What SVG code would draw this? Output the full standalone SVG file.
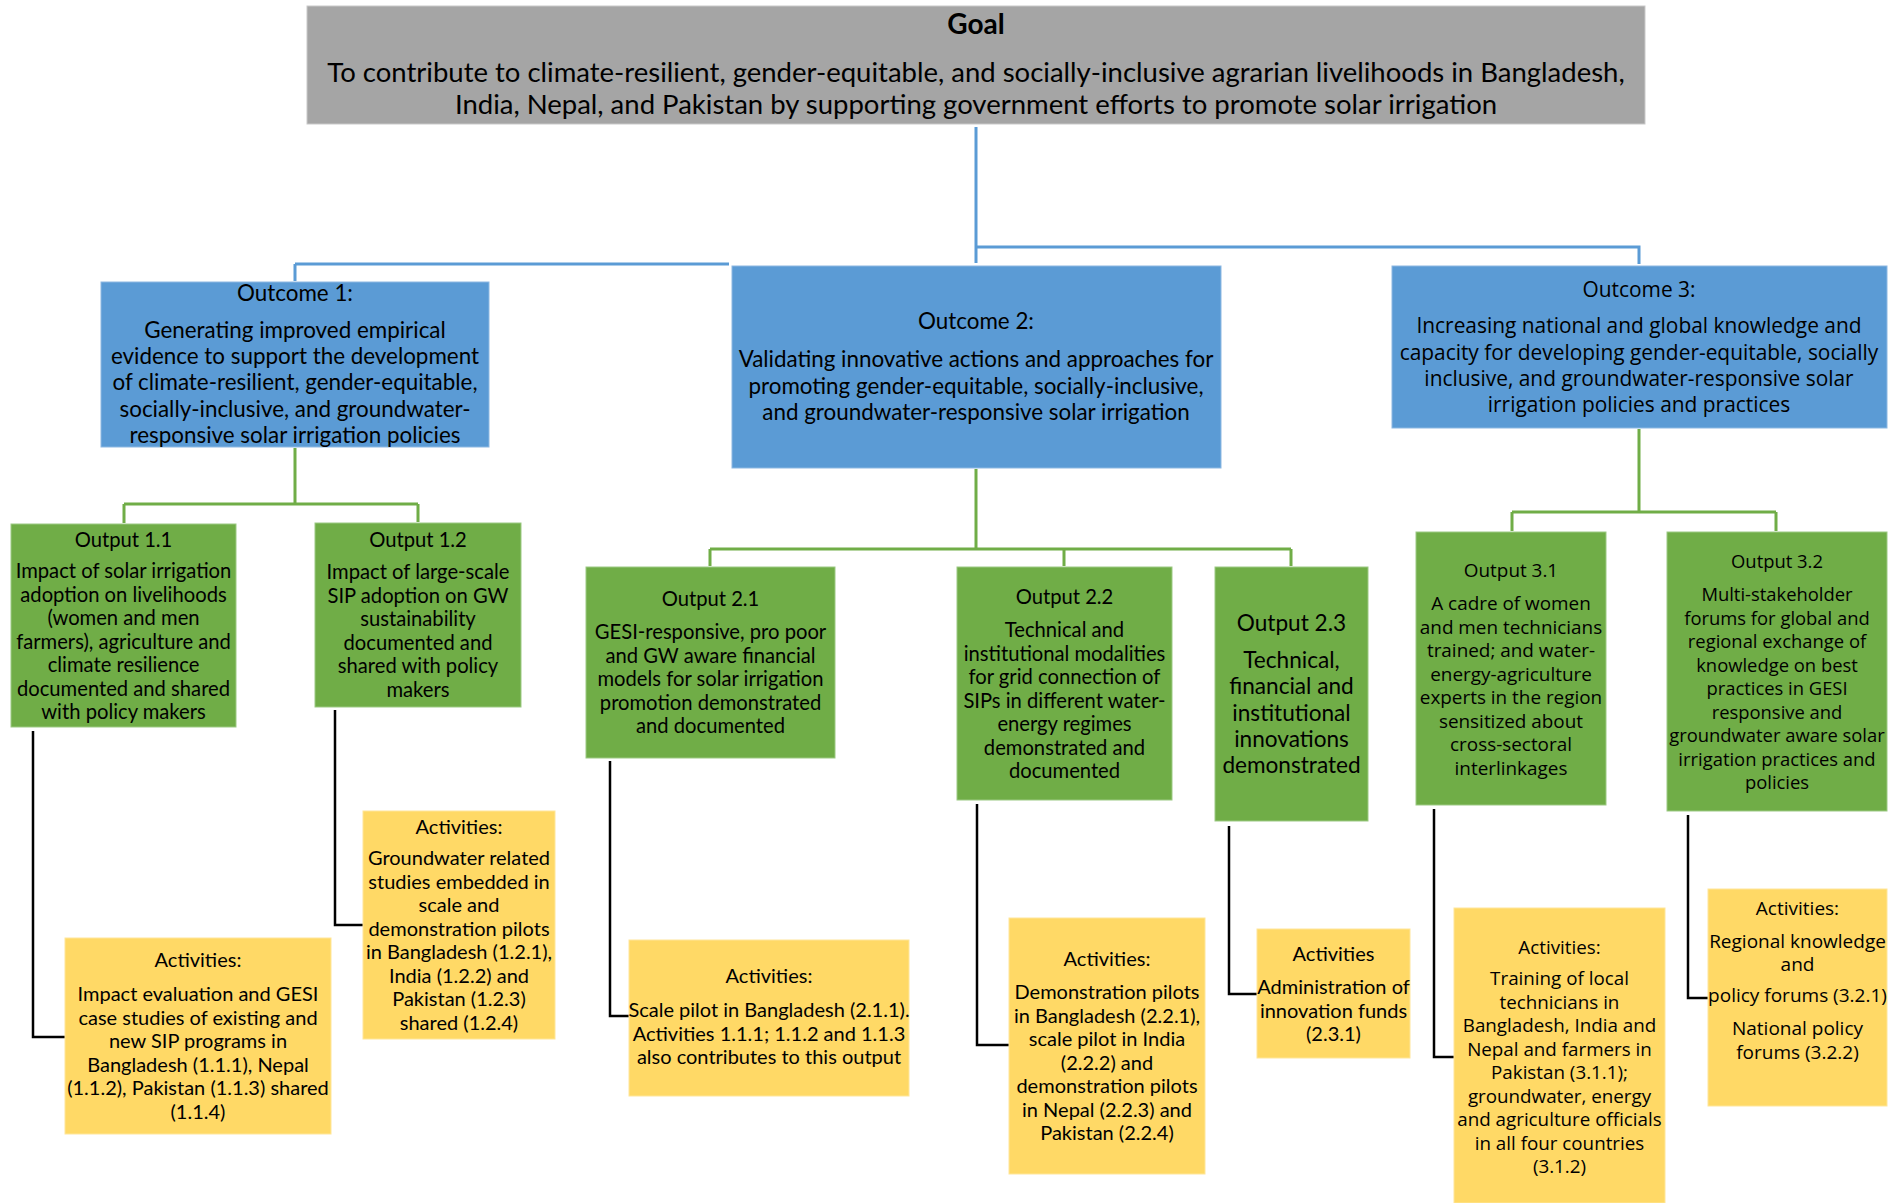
<svg xmlns="http://www.w3.org/2000/svg" width="1901" height="1203" viewBox="0 0 1901 1203">
<style>
.goal{fill:#A5A5A5;stroke:#C9C9C9;stroke-width:1}
.outc{fill:#5B9BD5;stroke:#8DB8E2;stroke-width:1}
.outp{fill:#70AD47;stroke:#9CC983;stroke-width:1}
.act{fill:#FFD966;stroke:#FFE699;stroke-width:1}
text{font-family:Lato,"Open Sans","Liberation Sans",sans-serif;fill:#000;text-anchor:middle}
.gt{font-size:28px;font-weight:bold}
.g{font-size:27.5px}
.oc{font-size:22.4px}
.op{font-size:20.2px}
.op23{font-size:22.6px}
.ac{font-size:20px}
.w{font-family:"Open Sans","Noto Sans","Liberation Sans",sans-serif}
.oc3{font-size:20.9px}
.op31{font-size:18.9px}
.op32{font-size:18.4px}
.ac31{font-size:18.8px}
.ac32{font-size:19px}
.cb{fill:none;stroke:#5B9BD5;stroke-width:3}
.cg{fill:none;stroke:#70AD47;stroke-width:3}
.ck{fill:none;stroke:#000;stroke-width:2.5}
</style>
<g id="connectors">
<path class="cb" d="M976,127 V263 M976,247 H1639 V264 M295,264 H729 M295,264 V281"/>
<path class="cg" d="M295,448 V504 M124,504 H418 M124,504 V523 M418,504 V522"/>
<path class="cg" d="M976,469 V549 M710,549 H1291 M710,549 V566 M1064,549 V566 M1291,549 V566"/>
<path class="cg" d="M1639,429 V512 M1512,512 H1776 M1512,512 V531 M1776,512 V531"/>
<path class="ck" d="M33,731 V1037 H65"/>
<path class="ck" d="M335,710 V925 H363"/>
<path class="ck" d="M610,761 V1016 H629"/>
<path class="ck" d="M977,804 V1045 H1009"/>
<path class="ck" d="M1229,826 V994 H1257"/>
<path class="ck" d="M1434,809 V1057 H1454"/>
<path class="ck" d="M1688,815 V998 H1708"/>
</g>
<g id="goal">
<rect class="goal" x="307" y="6" width="1338" height="118"/>
<text class="gt" x="976" y="34">Goal</text>
<text class="g" x="976" y="82">To contribute to climate-resilient, gender-equitable, and socially-inclusive agrarian livelihoods in Bangladesh,</text>
<text class="g" x="976" y="114">India, Nepal, and Pakistan by supporting government efforts to promote solar irrigation</text>
</g>
<g id="outcome1">
<rect class="outc" x="101" y="282" width="388" height="165"/>
<text class="oc" x="295" y="301">Outcome 1:</text>
<text class="oc" x="295" y="338">Generating improved empirical</text>
<text class="oc" x="295" y="364">evidence to support the development</text>
<text class="oc" x="295" y="390">of climate-resilient, gender-equitable,</text>
<text class="oc" x="295" y="417">socially-inclusive, and groundwater-</text>
<text class="oc" x="295" y="443">responsive solar irrigation policies</text>
</g>
<g id="outcome2">
<rect class="outc" x="732" y="266" width="489" height="202"/>
<text class="oc" x="976" y="329">Outcome 2:</text>
<text class="oc" x="976" y="367">Validating innovative actions and approaches for</text>
<text class="oc" x="976" y="394">promoting gender-equitable, socially-inclusive,</text>
<text class="oc" x="976" y="420">and groundwater-responsive solar irrigation</text>
</g>
<g id="outcome3">
<rect class="outc" x="1392" y="266" width="495" height="162"/>
<text class="w oc3" x="1639" y="297">Outcome 3:</text>
<text class="w oc3" x="1639" y="333">Increasing national and global knowledge and</text>
<text class="w oc3" x="1639" y="360">capacity for developing gender-equitable, socially</text>
<text class="w oc3" x="1639" y="386">inclusive, and groundwater-responsive solar</text>
<text class="w oc3" x="1639" y="412">irrigation policies and practices</text>
</g>
<g id="output11">
<rect class="outp" x="11" y="524" width="225" height="203"/>
<text class="op" x="123.5" y="547">Output 1.1</text>
<text class="op" x="123.5" y="578">Impact of solar irrigation</text>
<text class="op" x="123.5" y="601.5">adoption on livelihoods</text>
<text class="op" x="123.5" y="625">(women and men</text>
<text class="op" x="123.5" y="648.5">farmers), agriculture and</text>
<text class="op" x="123.5" y="672">climate resilience</text>
<text class="op" x="123.5" y="695.5">documented and shared</text>
<text class="op" x="123.5" y="719">with policy makers</text>
</g>
<g id="output12">
<rect class="outp" x="315" y="523" width="206" height="184"/>
<text class="op" x="418" y="547">Output 1.2</text>
<text class="op" x="418" y="579">Impact of large-scale</text>
<text class="op" x="418" y="602.5">SIP adoption on GW</text>
<text class="op" x="418" y="626">sustainability</text>
<text class="op" x="418" y="649.5">documented  and</text>
<text class="op" x="418" y="673">shared with policy</text>
<text class="op" x="418" y="696.5">makers</text>
</g>
<g id="output21">
<rect class="outp" x="586" y="567" width="249" height="191"/>
<text class="op" x="710.5" y="606">Output 2.1</text>
<text class="op" x="710.5" y="639">GESI-responsive, pro poor</text>
<text class="op" x="710.5" y="662.5">and GW aware financial</text>
<text class="op" x="710.5" y="686">models for solar irrigation</text>
<text class="op" x="710.5" y="709.5">promotion demonstrated</text>
<text class="op" x="710.5" y="733">and documented</text>
</g>
<g id="output22">
<rect class="outp" x="957" y="567" width="215" height="233"/>
<text class="op" x="1064.5" y="604">Output 2.2</text>
<text class="op" x="1064.5" y="637">Technical and</text>
<text class="op" x="1064.5" y="660.5">institutional modalities</text>
<text class="op" x="1064.5" y="684">for grid connection of</text>
<text class="op" x="1064.5" y="707.5">SIPs in different water-</text>
<text class="op" x="1064.5" y="731">energy regimes</text>
<text class="op" x="1064.5" y="754.5">demonstrated and</text>
<text class="op" x="1064.5" y="778">documented</text>
</g>
<g id="output23">
<rect class="outp" x="1215" y="567" width="153" height="254"/>
<text class="op23" x="1291.5" y="631">Output 2.3</text>
<text class="op23" x="1291.5" y="668">Technical,</text>
<text class="op23" x="1291.5" y="694.3">financial and</text>
<text class="op23" x="1291.5" y="720.6">institutional</text>
<text class="op23" x="1291.5" y="746.9">innovations</text>
<text class="op23" x="1291.5" y="773.2">demonstrated</text>
</g>
<g id="output31">
<rect class="outp" x="1416" y="532" width="190" height="273"/>
<text class="w op31" x="1511" y="577">Output 3.1</text>
<text class="w op31" x="1511" y="610">A cadre of women</text>
<text class="w op31" x="1511" y="633.5">and men technicians</text>
<text class="w op31" x="1511" y="657">trained; and water-</text>
<text class="w op31" x="1511" y="680.5">energy-agriculture</text>
<text class="w op31" x="1511" y="704">experts in the region</text>
<text class="w op31" x="1511" y="727.5">sensitized about</text>
<text class="w op31" x="1511" y="751">cross-sectoral</text>
<text class="w op31" x="1511" y="774.5">interlinkages</text>
</g>
<g id="output32">
<rect class="outp" x="1667" y="532" width="220" height="279"/>
<text class="w op32" x="1777" y="568">Output 3.2</text>
<text class="w op32" x="1777" y="601">Multi-stakeholder</text>
<text class="w op32" x="1777" y="624.5">forums for global and</text>
<text class="w op32" x="1777" y="648">regional exchange of</text>
<text class="w op32" x="1777" y="671.5">knowledge on best</text>
<text class="w op32" x="1777" y="695">practices in GESI</text>
<text class="w op32" x="1777" y="718.5">responsive and</text>
<text class="w op32" x="1777" y="742">groundwater aware solar</text>
<text class="w op32" x="1777" y="765.5">irrigation practices and</text>
<text class="w op32" x="1777" y="789">policies</text>
</g>
<g id="activities11">
<rect class="act" x="65" y="938" width="266" height="196"/>
<text class="ac" x="198" y="967">Activities:</text>
<text class="ac" x="198" y="1001">Impact evaluation  and GESI</text>
<text class="ac" x="198" y="1024.5">case studies of existing and</text>
<text class="ac" x="198" y="1048">new  SIP programs in</text>
<text class="ac" x="198" y="1071.5">Bangladesh (1.1.1), Nepal</text>
<text class="ac" x="198" y="1095">(1.1.2), Pakistan (1.1.3) shared</text>
<text class="ac" x="198" y="1118.5">(1.1.4)</text>
</g>
<g id="activities12">
<rect class="act" x="363" y="811" width="192" height="228"/>
<text class="ac" x="459" y="834">Activities:</text>
<text class="ac" x="459" y="865">Groundwater  related</text>
<text class="ac" x="459" y="888.5">studies embedded in</text>
<text class="ac" x="459" y="912">scale and</text>
<text class="ac" x="459" y="935.5">demonstration pilots</text>
<text class="ac" x="459" y="959">in Bangladesh (1.2.1),</text>
<text class="ac" x="459" y="982.5">India (1.2.2) and</text>
<text class="ac" x="459" y="1006">Pakistan (1.2.3)</text>
<text class="ac" x="459" y="1029.5">shared (1.2.4)</text>
</g>
<g id="activities21">
<rect class="act" x="629" y="940" width="280" height="156"/>
<text class="ac" x="769" y="983">Activities:</text>
<text class="ac" x="769" y="1017">Scale pilot in Bangladesh (2.1.1).</text>
<text class="ac" x="769" y="1040.5">Activities 1.1.1; 1.1.2 and 1.1.3</text>
<text class="ac" x="769" y="1064">also contributes to this output</text>
</g>
<g id="activities22">
<rect class="act" x="1009" y="918" width="196" height="256"/>
<text class="ac" x="1107" y="966">Activities:</text>
<text class="ac" x="1107" y="999">Demonstration pilots</text>
<text class="ac" x="1107" y="1022.5">in Bangladesh (2.2.1),</text>
<text class="ac" x="1107" y="1046">scale pilot in India</text>
<text class="ac" x="1107" y="1069.5">(2.2.2) and</text>
<text class="ac" x="1107" y="1093">demonstration pilots</text>
<text class="ac" x="1107" y="1116.5">in Nepal (2.2.3) and</text>
<text class="ac" x="1107" y="1140">Pakistan (2.2.4)</text>
</g>
<g id="activities23">
<rect class="act" x="1257" y="929" width="153" height="129"/>
<text class="ac" x="1333.5" y="961">Activities</text>
<text class="ac" x="1333.5" y="994">Administration of</text>
<text class="ac" x="1333.5" y="1017.5">innovation funds</text>
<text class="ac" x="1333.5" y="1041">(2.3.1)</text>
</g>
<g id="activities31">
<rect class="act" x="1454" y="908" width="211" height="295"/>
<text class="w ac31" x="1559.5" y="954">Activities:</text>
<text class="w ac31" x="1559.5" y="985">Training of local</text>
<text class="w ac31" x="1559.5" y="1008.5">technicians in</text>
<text class="w ac31" x="1559.5" y="1032">Bangladesh, India and</text>
<text class="w ac31" x="1559.5" y="1055.5">Nepal and farmers in</text>
<text class="w ac31" x="1559.5" y="1079">Pakistan (3.1.1);</text>
<text class="w ac31" x="1559.5" y="1102.5">groundwater, energy</text>
<text class="w ac31" x="1559.5" y="1126">and agriculture officials</text>
<text class="w ac31" x="1559.5" y="1149.5">in all four countries</text>
<text class="w ac31" x="1559.5" y="1173">(3.1.2)</text>
</g>
<g id="activities32">
<rect class="act" x="1708" y="889" width="179" height="217"/>
<text class="w ac32" x="1797.5" y="915">Activities:</text>
<text class="w ac32" x="1797.5" y="948">Regional knowledge</text>
<text class="w ac32" x="1797.5" y="971">and</text>
<text class="w ac32" x="1797.5" y="1002">policy forums (3.2.1)</text>
<text class="w ac32" x="1797.5" y="1035">National policy</text>
<text class="w ac32" x="1797.5" y="1059">forums (3.2.2)</text>
</g>
</svg>
